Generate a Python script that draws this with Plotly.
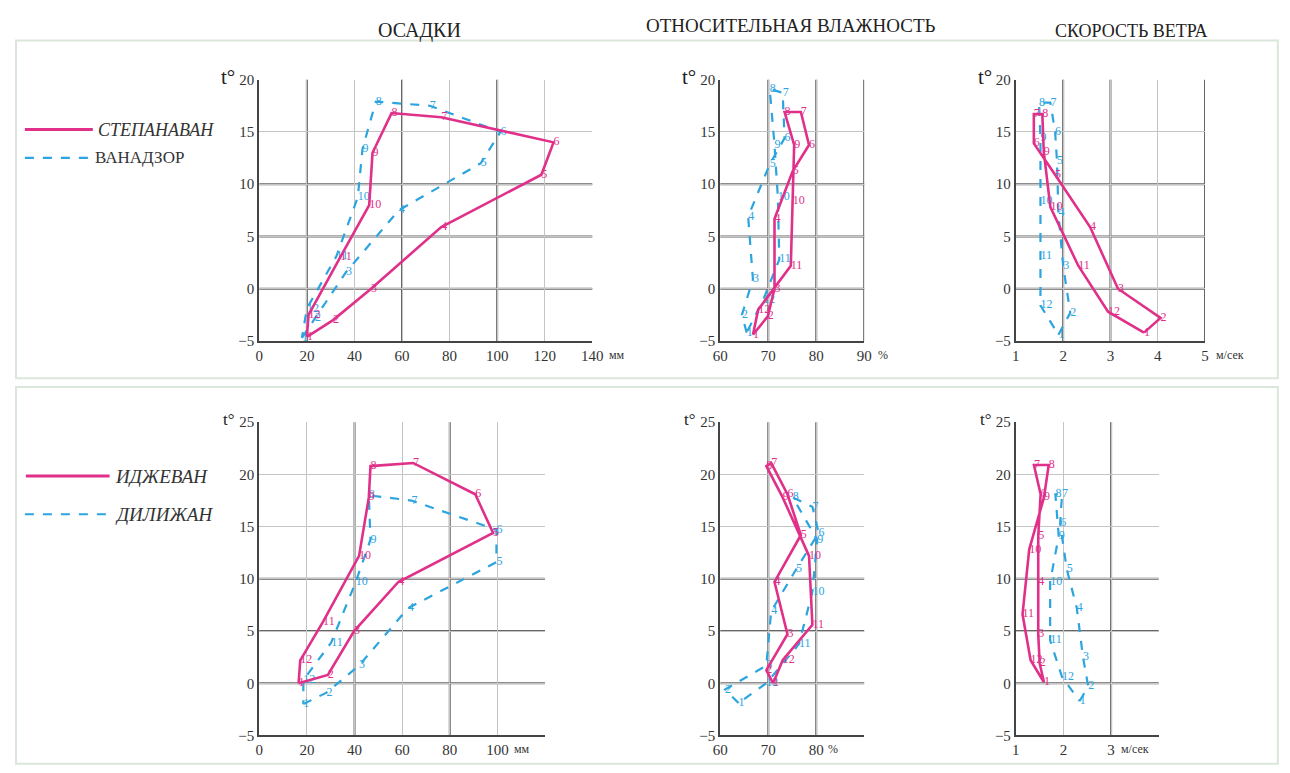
import plotly.graph_objects as go

# page body keeps the browser's default 8px margin, so the figure is sized to fit inside it
PAGE_W, PAGE_H = 1290, 773
BODY_M = 8
W, H = PAGE_W - 2 * BODY_M, PAGE_H - 2 * BODY_M
months = [str(i) for i in range(1, 13)]

# ---------------- data (x value, temperature) per month 1..12 ----------------
# Top row: Степанаван (solid) / Ванадзор (dashed)
pr1_a_x = [20, 31, 47, 76.5, 118.6, 123.7, 76.5, 55.6, 47.6, 46.2, 34, 20.7]
pr1_a_t = [-4.6, -3.0, 0, 5.9, 10.9, 14, 16.4, 16.8, 13, 8.0, 3.0, -2.5]
pr1_b_x = [17.9, 23.4, 36.5, 58.6, 93.1, 101.4, 71.7, 49, 43.4, 41.4, 32.4, 20.0]
pr1_b_t = [-4.7, -2.8, 1.6, 7.5, 12, 15, 17.5, 17.9, 13.4, 8.75, 3.1, -1.9]

hu1_a_x = [66.8, 69.9, 71.3, 71.3, 75.1, 78.5, 76.8, 73.4, 75.4, 75.1, 74.7, 67.9]
hu1_a_t = [-4.4, -2.65, 0, 6.7, 11.25, 13.75, 16.9, 16.9, 13.75, 8.4, 2.2, -2.0]
hu1_b_x = [65.5, 64.5, 66.8, 65.8, 70.3, 73.4, 73.0, 70.3, 71.3, 72.0, 72.3, 68.9]
hu1_b_t = [-4.2, -2.5, 0.9, 6.9, 11.9, 14.4, 18.75, 19.1, 13.75, 8.75, 2.8, -1.1]

wi1_a_x = [3.71, 4.06, 3.16, 2.57, 1.83, 1.38, 1.38, 1.56, 1.59, 1.73, 2.32, 2.95]
wi1_a_t = [-4.2, -2.8, 0, 5.9, 10.9, 13.9, 16.7, 16.7, 13.1, 7.8, 2.2, -2.2]
wi1_b_x = [1.9, 2.15, 2.0, 1.9, 1.87, 1.83, 1.73, 1.49, 1.52, 1.52, 1.52, 1.52]
wi1_b_t = [-4.4, -2.3, 2.2, 7.2, 12.2, 15, 17.8, 17.8, 14.4, 8.4, 3.1, -1.6]

# Bottom row: Иджеван (solid) / Дилижан (dashed)
pr2_a_x = [16.5, 28.8, 39.8, 58.4, 98.2, 90.7, 64.6, 46.7, 46, 41.9, 26.8, 17.2]
pr2_a_t = [0, 0.8, 5, 9.7, 14.4, 18.1, 21.1, 20.8, 17.8, 12.2, 5.9, 2.2]
pr2_b_x = [18.5, 28.2, 41.9, 62.5, 99.6, 99.6, 63.9, 46, 46.7, 40.5, 30.2, 18.5]
pr2_b_t = [-2.0, -0.9, 1.7, 7.2, 11.6, 14.7, 17.5, 18, 13.75, 9.7, 3.9, 0.3]

hu2_a_x = [71, 69.6, 74.0, 71.3, 76.8, 74.0, 70.6, 69.6, 73.0, 78.5, 79.2, 73.0]
hu2_a_t = [0, 1.25, 4.7, 9.7, 14.2, 18.1, 21.1, 20.8, 17.8, 12.2, 5.6, 2.2]
hu2_b_x = [63.8, 61.0, 69.6, 70.6, 75.8, 80.5, 79.2, 75.1, 80.2, 79.2, 76.4, 69.6]
hu2_b_t = [-1.9, -0.6, 1.7, 6.9, 10.9, 14.4, 16.9, 17.8, 13.75, 8.75, 3.75, 0]

wi2_a_x = [1.59, 1.5, 1.47, 1.47, 1.47, 1.52, 1.38, 1.69, 1.59, 1.28, 1.14, 1.31]
wi2_a_t = [0.1, 1.9, 4.7, 9.7, 14.1, 18.1, 20.9, 20.9, 17.8, 12.8, 6.6, 2.2]
wi2_b_x = [2.34, 2.52, 2.41, 2.28, 2.07, 1.93, 1.97, 1.83, 1.9, 1.72, 1.72, 1.97]
wi2_b_t = [-1.7, -0.3, 2.5, 7.2, 10.9, 15.3, 18.1, 18.1, 14.1, 9.7, 4.1, 0.6]

titles = ["ОСАДКИ", "ОТНОСИТЕЛЬНАЯ ВЛАЖНОСТЬ", "СКОРОСТЬ ВЕТРА"]
names_top = ["СТЕПАНАВАН", "ВАНАДЗОР"]
names_bot = ["ИДЖЕВАН", "ДИЛИЖАН"]

xt1_vals = [0, 20, 40, 60, 80, 100, 120, 140]
xt1_text = ["0", "20", "40", "60", "80", "100", "120", "140"]
xt2_vals = [60, 70, 80, 90]
xt2_text = ["60", "70", "80", "90"]
xt3_vals = [1, 2, 3, 4, 5]
xt3_text = ["1", "2", "3", "4", "5"]
xt4_vals = [0, 20, 40, 60, 80, 100, 120]
xt4_text = ["0", "20", "40", "60", "80", "100", ""]
xt5_vals = [60, 70, 80, 90]
xt5_text = ["60", "70", "80", ""]
xt6_vals = [1, 2, 3, 4]
xt6_text = ["1", "2", "3", ""]
units = ["мм", "%", "м/сек", "мм", "%", "м/сек"]
unit_at = [140, 90, 5, 100, 80, 3]
yt_top = [-5, 0, 5, 10, 15, 20]
yt_bot = [-5, 0, 5, 10, 15, 20, 25]

# ---------------- styling / layout ----------------
PINK = "#e0308a"
BLUE = "#2ba4df"
SERIF = "Liberation Serif, Times New Roman, serif"
DARK = "#666666"
LIGHT = "#c4c4c4"

def px_x(p):
    return (p - BODY_M) / W

def px_y(p):
    return 1 - (p - BODY_M) / H

panels = [
    (pr1_a_x, pr1_a_t, pr1_b_x, pr1_b_t, [0, 140], [-5, 20], (255, 593), (73, 340), xt1_vals, xt1_text, yt_top, [20, 60, 100], [0, 5, 10], 15),
    (hu1_a_x, hu1_a_t, hu1_b_x, hu1_b_t, [60, 90], [-5, 20], (723, 869), (73, 340), xt2_vals, xt2_text, yt_top, [70, 80, 90], [0, 5, 10], 12),
    (wi1_a_x, wi1_a_t, wi1_b_x, wi1_b_t, [1, 5], [-5, 20], (1023, 1215), (73, 340), xt3_vals, xt3_text, yt_top, [2, 3, 5], [0, 5, 10], 9),
    (pr2_a_x, pr2_a_t, pr2_b_x, pr2_b_t, [0, 120], [-5, 25], (255, 545), (423, 743), xt4_vals, xt4_text, yt_bot, [40, 80], [0, 5, 10], 15),
    (hu2_a_x, hu2_a_t, hu2_b_x, hu2_b_t, [60, 90], [-5, 25], (723, 869), (423, 743), xt5_vals, xt5_text, yt_bot, [70, 80], [0, 5, 10], 10),
    (wi2_a_x, wi2_a_t, wi2_b_x, wi2_b_t, [1, 4], [-5, 25], (1023, 1168), (423, 743), xt6_vals, xt6_text, yt_bot, [3], [0, 5, 10], 8),
]

fig = go.Figure()
layout = {}
shapes = []
annotations = []

for i, (xa, ta, xb, tb, xr, yr, xd, yd, tv, tt, yt, dx, dy, ushift) in enumerate(panels):
    n = i + 1
    xk = "x" if n == 1 else f"x{n}"
    yk = "y" if n == 1 else f"y{n}"
    xaxis_name = "xaxis" if n == 1 else f"xaxis{n}"
    yaxis_name = "yaxis" if n == 1 else f"yaxis{n}"

    for xs, ts, color, dash, width in ((xb, tb, BLUE, "dash", 2.2), (xa, ta, PINK, "solid", 2.6)):
        fig.add_trace(go.Scatter(
            x=xs + [xs[0]], y=ts + [ts[0]], xaxis=xk, yaxis=yk,
            mode="lines", line=dict(color=color, width=width, dash=dash),
            showlegend=False, hoverinfo="skip"))
        fig.add_trace(go.Scatter(
            x=xs, y=ts, xaxis=xk, yaxis=yk, mode="text", text=months,
            textposition="middle right",
            textfont=dict(family=SERIF, size=12, color=color),
            showlegend=False, hoverinfo="skip"))

    layout[xaxis_name] = dict(
        domain=[px_x(xd[0]), px_x(xd[1])], range=xr, anchor=yk,
        tickmode="array", tickvals=tv, ticktext=tt,
        showgrid=True, gridcolor=LIGHT, gridwidth=1.2,
        showline=True, linecolor="#444", linewidth=2, zeroline=False,
        ticks="", tickfont=dict(family=SERIF, size=15, color="#333"),
        fixedrange=True)
    layout[yaxis_name] = dict(
        domain=[px_y(yd[1]), px_y(yd[0])], range=yr, anchor=xk,
        tickmode="array", tickvals=yt,
        showgrid=True, gridcolor=LIGHT, gridwidth=1.2,
        showline=True, linecolor="#444", linewidth=2, zeroline=False,
        ticks="", tickfont=dict(family=SERIF, size=15, color="#333"),
        fixedrange=True)

    for v in dx:
        shapes.append(dict(type="line", xref=xk, yref=f"{yk} domain", x0=v, x1=v, y0=0, y1=1,
                           line=dict(color=DARK, width=2), layer="below"))
    for v in dy:
        shapes.append(dict(type="line", xref=f"{xk} domain", yref=yk, x0=0, x1=1, y0=v, y1=v,
                           line=dict(color=DARK, width=2), layer="below"))

    # "t°" label beside the top y tick
    annotations.append(dict(text="t°", xref=f"{xk} domain", yref=f"{yk} domain", x=0, y=1,
                            xanchor="right", yanchor="middle", xshift=-22, yshift=3,
                            showarrow=False,
                            font=dict(family=SERIF, size=21 if n <= 3 else 17, color="#222")))
    # unit after the last labelled x tick
    annotations.append(dict(text=units[i], xref=xk, yref=f"{yk} domain", x=unit_at[i], y=0,
                            xanchor="left", yanchor="top", xshift=ushift, yshift=-5,
                            showarrow=False,
                            font=dict(family=SERIF, size=12, color="#333")))

for text, cx, cy, fs in zip(titles, (418, 795, 1140), (23, 18, 23), (20, 19, 18)):
    annotations.append(dict(text=text, xref="paper", yref="paper", x=px_x(cx), y=px_y(cy),
                            xanchor="center", yanchor="middle", showarrow=False,
                            font=dict(family=SERIF, size=fs, color="#222")))

shapes.append(dict(type="rect", xref="paper", yref="paper", x0=px_x(8), x1=px_x(1289),
                   y0=px_y(378), y1=px_y(33), line=dict(color="#dbe7da", width=2), layer="below"))
shapes.append(dict(type="rect", xref="paper", yref="paper", x0=px_x(8), x1=px_x(1289),
                   y0=px_y(772), y1=px_y(387), line=dict(color="#dbe7da", width=2), layer="below"))

legend_items = [
    (names_top[0], PINK, "solid", 3, 17, 86, 124, True, 18),
    (names_top[1], BLUE, "dash", 2.2, 17, 83, 153, False, 17),
    (names_bot[0], PINK, "solid", 3, 18, 103, 478, True, 19),
    (names_bot[1], BLUE, "dash", 2.2, 17, 103, 517, True, 19),
]
for name, color, dash, width, x0, x1, yy, ital, fs in legend_items:
    shapes.append(dict(type="line", xref="paper", yref="paper", x0=px_x(x0), x1=px_x(x1),
                       y0=px_y(yy), y1=px_y(yy), line=dict(color=color, width=width, dash=dash)))
    label = f"<i>{name}</i>" if ital else name
    annotations.append(dict(text=label, xref="paper", yref="paper", x=px_x(x1 + 3), y=px_y(yy),
                            xanchor="left", yanchor="middle", showarrow=False,
                            font=dict(family=SERIF, size=fs, color="#333")))

fig.update_layout(
    width=W, height=H, margin=dict(l=0, r=0, t=0, b=0),
    paper_bgcolor="white", plot_bgcolor="white",
    shapes=shapes, annotations=annotations, showlegend=False,
    **layout)

fig.write_html("out.html", include_plotlyjs=True, config={"displayModeBar": False})
